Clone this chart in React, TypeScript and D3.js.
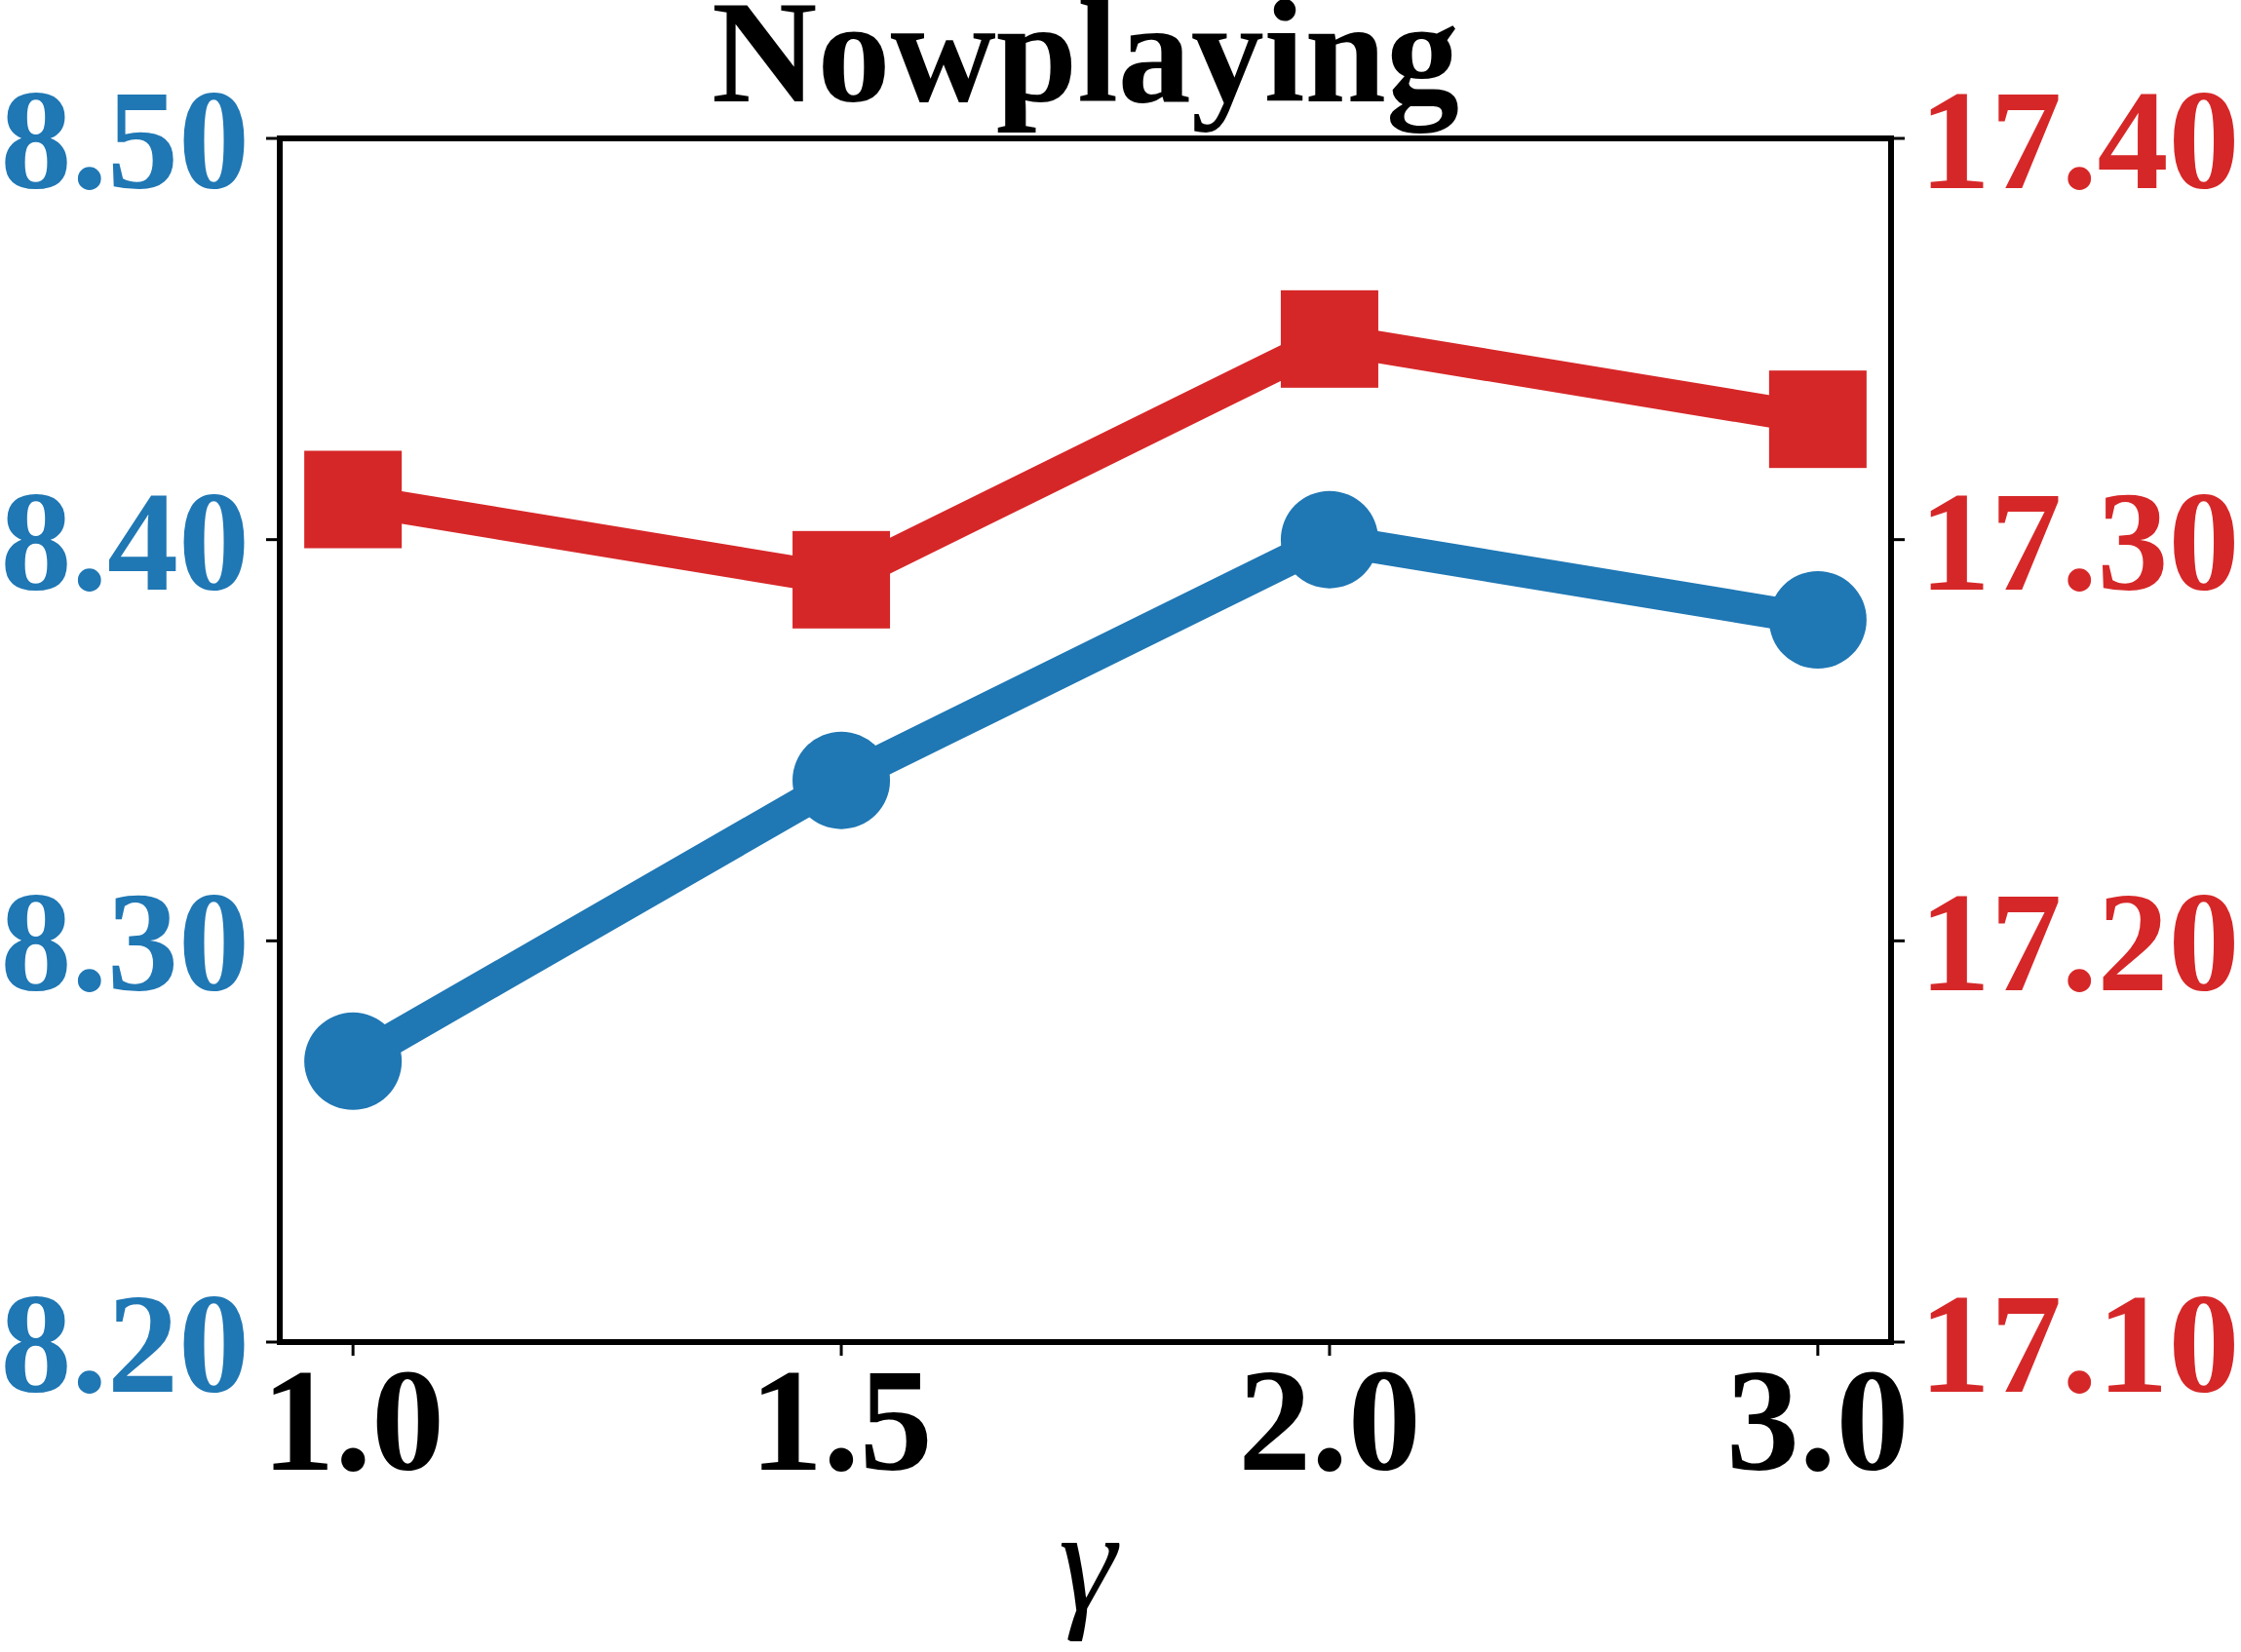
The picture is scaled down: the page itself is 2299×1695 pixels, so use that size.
import React from "react";
import * as d3 from "d3";

// valores
const gammas = ["1.0", "1.5", "2.0", "3.0"];
const leftSeries = [8.27, 8.34, 8.4, 8.38]; // eje izquierdo (azul)
const rightSeries = [17.31, 17.29, 17.35, 17.33]; // eje derecho (rojo)
const leftTicks = [8.2, 8.3, 8.4, 8.5];
const rightTicks = [17.1, 17.2, 17.3, 17.4];
const title = "Nowplaying";
const xLabel = "γ";

const W = 2299;
const H = 1695;
const frame = { left: 287, right: 1940, top: 142, bottom: 1377 };

const BLUE = "#1f77b4";
const RED = "#d62728";
const FONT = "Liberation Serif";
const FS = 150;
const TICK = 14;
const PAD = 15;

const txt: React.CSSProperties = { fontFamily: FONT, fontWeight: 700, fontSize: FS };
// las etiquetas de los ejes y se achican un poco para que no se corten en el borde
const yTxt: React.CSSProperties = { ...txt, fontSize: 146 };

const App = () => {
    const x = d3.scaleLinear().domain([-0.15, 3.15]).range([frame.left, frame.right]);
    const yLeft = d3.scaleLinear().domain([8.2, 8.5]).range([frame.bottom, frame.top]);
    const yRight = d3.scaleLinear().domain([17.1, 17.4]).range([frame.bottom, frame.top]);
    const fmt = d3.format(".2f");

    const lineLeft = d3.line<number>().x((_, i) => x(i)).y(d => yLeft(d));
    const lineRight = d3.line<number>().x((_, i) => x(i)).y(d => yRight(d));

    return (
        <svg
            width={W}
            height={H}
            style={{ position: "absolute", left: 0, top: 0, display: "block", background: "#fff" }}
        >
            {/* series roja, eje derecho */}
            <path d={lineRight(rightSeries) || ""} fill="none" stroke={RED} strokeWidth={33} />
            {rightSeries.map((d, i) => (
                <rect key={"r" + i} x={x(i) - 50} y={yRight(d) - 50} width={100} height={100} fill={RED} />
            ))}

            {/* series azul, eje izquierdo */}
            <path d={lineLeft(leftSeries) || ""} fill="none" stroke={BLUE} strokeWidth={33} />
            {leftSeries.map((d, i) => (
                <circle key={"b" + i} cx={x(i)} cy={yLeft(d)} r={50} fill={BLUE} />
            ))}

            {/* marco */}
            <rect
                x={frame.left}
                y={frame.top}
                width={frame.right - frame.left}
                height={frame.bottom - frame.top}
                fill="none"
                stroke="#000"
                strokeWidth={6}
            />

            {/* eje izquierdo */}
            {leftTicks.map(t => (
                <g key={"lt" + t}>
                    <line x1={frame.left - TICK} x2={frame.left} y1={yLeft(t)} y2={yLeft(t)} stroke="#000" strokeWidth={3} />
                    <text x={frame.left - TICK - 17} y={yLeft(t)} dy="0.35em" textAnchor="end" style={yTxt} fill={BLUE}>
                        {fmt(t)}
                    </text>
                </g>
            ))}

            {/* eje derecho */}
            {rightTicks.map(t => (
                <g key={"rt" + t}>
                    <line x1={frame.right} x2={frame.right + TICK} y1={yRight(t)} y2={yRight(t)} stroke="#000" strokeWidth={3} />
                    <text x={frame.right + TICK + PAD} y={yRight(t)} dy="0.35em" textAnchor="start" style={yTxt} fill={RED}>
                        {fmt(t)}
                    </text>
                </g>
            ))}

            {/* eje x */}
            {gammas.map((g, i) => (
                <g key={"xt" + g}>
                    <line x1={x(i)} x2={x(i)} y1={frame.bottom} y2={frame.bottom + TICK} stroke="#000" strokeWidth={3} />
                    <text x={x(i)} y={frame.bottom + TICK + 117} textAnchor="middle" style={txt} fill="#000">
                        {g}
                    </text>
                </g>
            ))}

            <text
                x={(frame.left + frame.right) / 2 + 2}
                y={1652}
                textAnchor="middle"
                style={{ fontFamily: FONT, fontSize: FS, fontStyle: "italic", fontWeight: 400 }}
                fill="#000"
            >
                {xLabel}
            </text>

            <text x={(frame.left + frame.right) / 2} y={104} textAnchor="middle" style={txt} fill="#000">
                {title}
            </text>
        </svg>
    );
};

export default App;
